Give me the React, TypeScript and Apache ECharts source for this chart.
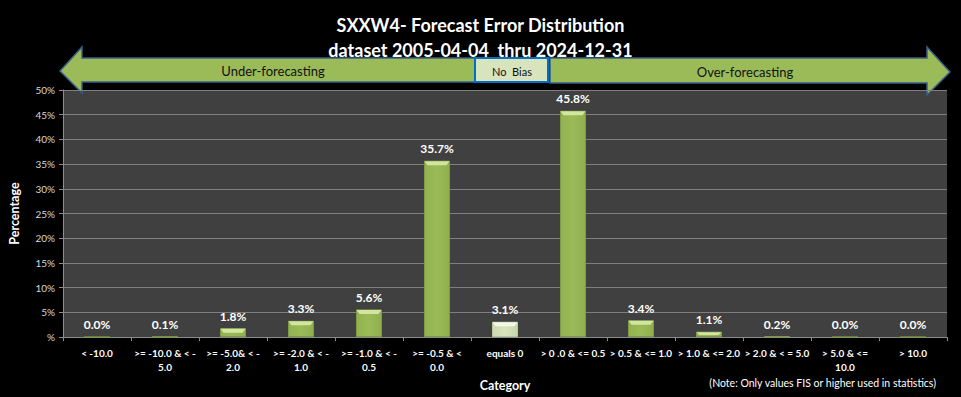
import React, { useEffect, useRef } from "react";
import * as echarts from "echarts";

const categories = [
  "< -10.0",
  ">= -10.0 & < -\n5.0",
  ">= -5.0& < -\n2.0",
  ">= -2.0 & < -\n1.0",
  ">= -1.0 & < -\n0.5",
  ">= -0.5 & <\n0.0",
  "equals 0",
  "> 0 .0 & <= 0.5",
  "> 0.5 & <= 1.0",
  "> 1.0 & <= 2.0",
  "> 2.0 & < = 5.0",
  "> 5.0 & <=\n10.0",
  "> 10.0",
];
const percentages = [0.0, 0.1, 1.8, 3.3, 5.6, 35.7, 3.1, 45.8, 3.4, 1.1, 0.2, 0.0, 0.0];
const highlightIndex = 6;
const titleLines = ["SXXW4- Forecast Error Distribution", "dataset 2005-04-04  thru 2024-12-31"];
const noteText = "(Note: Only values FIS or higher used in statistics)";

const FONT = "Lato, 'Open Sans', sans-serif";
const GREEN = "#9BBB59";
const LIGHT = "#D7E4BD";

export default function App() {
  const ref = useRef<HTMLDivElement>(null);
  useEffect(() => {
    const chart = echarts.init(ref.current!, null, { renderer: "svg" });
    const barData = percentages.map((v, i) => ({
      value: v,
      itemStyle: {
        color: {
          type: "linear", x: 0, y: 0, x2: 1, y2: 0,
          colorStops: i === highlightIndex
            ? [{ offset: 0, color: "#cddbb0" }, { offset: 0.5, color: LIGHT }, { offset: 1, color: "#c8d7aa" }]
            : [{ offset: 0, color: "#92b24f" }, { offset: 0.5, color: GREEN }, { offset: 1, color: "#8fae4c" }],
        },
        borderColor: i === highlightIndex ? "#b9c8a0" : "#7e9a45",
        borderWidth: 1,
      },
    }));
    chart.setOption({
      animation: false,
      backgroundColor: "#000000",
      textStyle: { fontFamily: FONT },
      title: {
        text: titleLines.join("\n"),
        left: "center",
        top: 7,
        textStyle: { color: "#ffffff", fontSize: 18, fontWeight: "bold", fontFamily: FONT, lineHeight: 25 },
      },
      grid: { left: 60, right: 14, top: 90, bottom: 56, containLabel: false, backgroundColor: "#404040", show: true, borderWidth: 0 },
      xAxis: {
        type: "category",
        data: categories,
        name: "Category",
        nameLocation: "middle",
        nameGap: 38,
        nameTextStyle: { color: "#ffffff", fontWeight: "bold", fontSize: 12.5, fontFamily: FONT },
        axisLine: { lineStyle: { color: "#8c8c8c", width: 1 } },
        axisTick: { show: true, length: 4, lineStyle: { color: "#8c8c8c" } },
        axisLabel: { interval: 0, color: "#ffffff", fontSize: 10, fontWeight: "bold", lineHeight: 14, margin: 9, fontFamily: FONT },
      },
      yAxis: {
        type: "value",
        min: 0,
        max: 50,
        interval: 5,
        name: "Percentage",
        nameLocation: "middle",
        nameGap: 42,
        nameRotate: 90,
        nameTextStyle: { color: "#ffffff", fontWeight: "bold", fontSize: 12.5, fontFamily: FONT },
        axisLine: { show: true, lineStyle: { color: "#8c8c8c", width: 1 } },
        axisTick: { show: true, length: 4, lineStyle: { color: "#8c8c8c" } },
        axisLabel: {
          color: "#d9d9d9", fontSize: 10, margin: 8, fontFamily: FONT,
          formatter: (v: number) => (v === 0 ? "%" : v + "%"),
        },
        splitLine: { show: true, lineStyle: { color: "#7f7f7f", width: 1 } },
      },
      series: [
        {
          type: "bar",
          data: barData,
          barWidth: 26,
          label: {
            show: true,
            position: "top",
            distance: 6,
            color: "#ffffff",
            fontWeight: "bold",
            fontSize: 12,
            fontFamily: FONT,
            formatter: (p: any) => p.value.toFixed(1) + "%",
          },
        },
        {
          type: "custom",
          data: percentages.map((v, i) => [i, v]),
          silent: true,
          z: 3,
          renderItem: (params: any, api: any) => {
            const idx = api.value(0);
            const val = api.value(1);
            const top = api.coord([idx, val]);
            const base = api.coord([idx, 0]);
            const h = base[1] - top[1];
            if (h < 3) return null;
            const half = 13;
            const bh = Math.min(4, h / 2);
            const x0 = top[0] - half + 0.5, x1 = top[0] + half - 0.5, y0 = top[1] + 0.5;
            const hl = idx === highlightIndex;
            return {
              type: "polygon",
              shape: { points: [[x0, y0], [x1, y0], [x1 - 3, y0 + bh], [x0 + 3, y0 + bh]] },
              style: { fill: hl ? "#f2f7e8" : "#d2e6a0" },
            };
          },
        },
      ],
      graphic: [
        {
          type: "polygon",
          shape: { points: [[60, 71], [82, 47], [82, 58], [475, 58], [475, 82], [82, 82], [82, 93]] },
          style: { fill: GREEN, stroke: "#385D8A", lineWidth: 1.5 },
        },
        {
          type: "polygon",
          shape: { points: [[550, 58], [927, 58], [927, 47], [950, 72], [927, 95], [927, 83], [550, 83]] },
          style: { fill: GREEN, stroke: "#385D8A", lineWidth: 1.5 },
        },
        {
          type: "rect",
          shape: { x: 475, y: 58, width: 73, height: 24 },
          style: { fill: LIGHT, stroke: "#0070C0", lineWidth: 2 },
        },
        {
          type: "text", x: 273, y: 71,
          style: { text: "Under-forecasting", fill: "#111111", font: `13px ${FONT}`, textAlign: "center", textVerticalAlign: "middle" },
        },
        {
          type: "text", x: 745, y: 72,
          style: { text: "Over-forecasting", fill: "#111111", font: `13px ${FONT}`, textAlign: "center", textVerticalAlign: "middle" },
        },
        {
          type: "text", x: 512, y: 71,
          style: { text: "No  Bias", fill: "#111111", font: `11px ${FONT}`, textAlign: "center", textVerticalAlign: "middle" },
        },
        {
          type: "text", x: 936, y: 383,
          style: { text: noteText, fill: "#ffffff", font: `10.5px ${FONT}`, textAlign: "right", textVerticalAlign: "middle" },
        },
      ],
    });
    return () => chart.dispose();
  }, []);
  return <div ref={ref} style={{ width: 961, height: 397, position: "fixed", left: 0, top: 0 }} />;
}
